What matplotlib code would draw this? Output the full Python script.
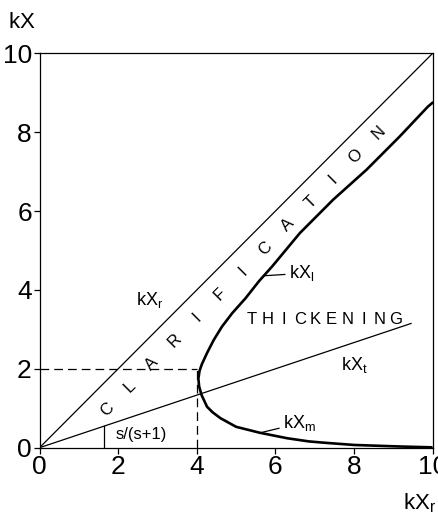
import numpy as np
import matplotlib
matplotlib.use("Agg")
import matplotlib.pyplot as plt

plt.rcParams['font.family'] = ['Liberation Sans', 'DejaVu Sans']
plt.rcParams['mathtext.default'] = 'regular'

# データ
ticks = [0, 2, 4, 6, 8, 10]
s_ratio = 1 / 3          # s/(s+1), s = 0.5
kxt_end = 9.45           # kXt line drawn up to here
angle_x = 1.65           # marker of the slope s/(s+1)
crit_xr = 4.0            # dashed guide
crit_kx = 2.0

# thick curve kXm (lower) -> kXl (upper)
curve_x = [9.97, 9.2, 8.0, 7.2, 6.85, 6.3, 5.6, 5.0, 4.6, 4.4, 4.26, 4.12,
           4.06, 4.04, 4.07, 4.13, 4.26, 4.43, 4.64, 4.90, 5.24, 5.58, 5.92,
           6.62, 7.47, 8.32, 9.16, 9.88, 10.0]
curve_y = [0.01, 0.03, 0.07, 0.13, 0.16, 0.24, 0.38, 0.53, 0.75, 0.90, 1.04,
           1.34, 1.55, 1.75, 1.95, 2.12, 2.40, 2.73, 3.07, 3.41, 3.79, 4.22,
           4.60, 5.44, 6.29, 7.05, 7.89, 8.65, 8.75]

clar_word = "CLARIFICATION"
clar_start = (1.71, 0.96)
clar_end = (8.62, 7.98)
thick_word = "THICKENING"
thick_x0, thick_x1, thick_y = 5.40, 9.05, 3.24


fig = plt.figure(figsize=(4.39, 5.17), dpi=100)
ax = fig.add_axes([0.090, 0.134, 0.8957, 0.763])

lw_thin = 0.9
# diagonal kX = kXr
ax.plot([0, 10], [0, 10], color='black', lw=lw_thin)
# kXt line
ax.plot([0, kxt_end], [0, s_ratio * kxt_end], color='black', lw=lw_thin)
# slope marker
ax.plot([angle_x, angle_x], [0, s_ratio * angle_x], color='black', lw=lw_thin)
# thick curve
ax.plot(curve_x, curve_y, color='black', lw=1.9, solid_joinstyle='round',
        solid_capstyle='round')
# dashed guides
ax.plot([0, crit_xr], [crit_kx, crit_kx], color='black', lw=lw_thin,
        dashes=(7, 4))
ax.plot([crit_xr, crit_xr], [0, crit_kx], color='black', lw=lw_thin,
        dashes=(7, 4))

# labels on the lines
ax.text(2.8, 3.75, r'$kX_r$', fontsize=13, ha='center', va='center')
ax.text(8.0, 2.1, r'$kX_t$', fontsize=13, ha='center', va='center')
ax.annotate(r'$kX_l$', xy=(5.72, 4.36), xytext=(6.35, 4.42),
            fontsize=13, ha='left', va='center',
            arrowprops=dict(arrowstyle='-', lw=lw_thin, shrinkA=1, shrinkB=0))
ax.annotate(r'$kX_m$', xy=(5.62, 0.38), xytext=(6.2, 0.62),
            fontsize=13, ha='left', va='center',
            arrowprops=dict(arrowstyle='-', lw=lw_thin, shrinkA=1, shrinkB=0))
ax.text(2.6, 0.33, 's/(s+1)', fontsize=12, ha='center', va='center')

# spaced words
cx = np.linspace(clar_start[0], clar_end[0], len(clar_word))
cy = np.linspace(clar_start[1], clar_end[1], len(clar_word))
for ch, x, y in zip(clar_word, cx, cy):
    ax.text(x, y, ch, fontsize=12, rotation=45, ha='center', va='center',
            rotation_mode='anchor')
tx = np.linspace(thick_x0, thick_x1, len(thick_word))
for ch, x in zip(thick_word, tx):
    ax.text(x, thick_y, ch, fontsize=12, ha='center', va='center')

ax.set_xlim(0, 10)
ax.set_ylim(0, 10)
ax.set_xticks(ticks)
ax.set_yticks(ticks)
ax.tick_params(direction='out', length=4.5, width=0.9, labelsize=19, pad=1,
               top=False, right=False)
for sp in ax.spines.values():
    sp.set_linewidth(0.9)

fig.text(22 / 439, 1 - 22 / 517, r'$kX$', fontsize=16, ha='center',
         va='center')
fig.text(420 / 439, 1 - 503 / 517, r'$kX_r$', fontsize=16, ha='center',
         va='center')

fig.savefig("out.png", dpi=100)
